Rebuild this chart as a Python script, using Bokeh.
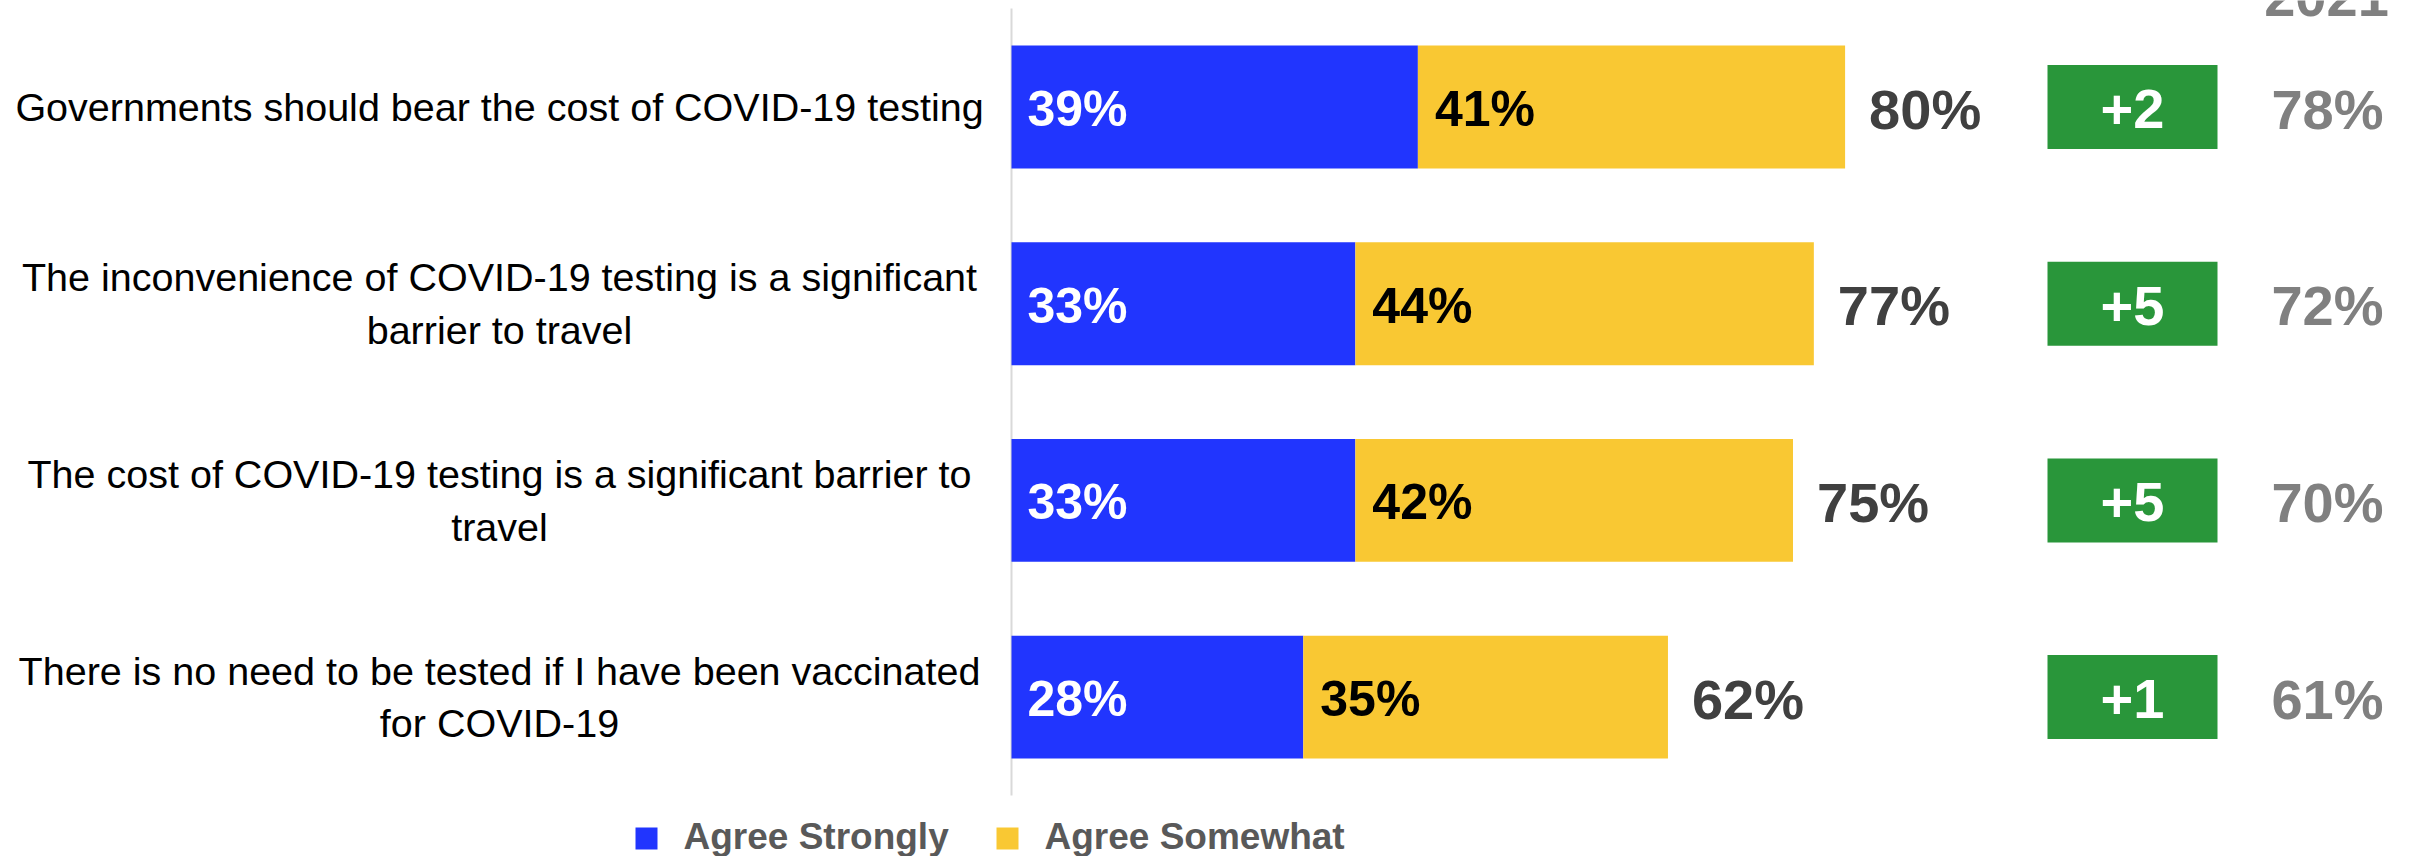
from bokeh.plotting import figure
from bokeh.models import Range1d, ColumnDataSource
from bokeh.core.properties import value
from bokeh.embed import file_html
from bokeh.resources import INLINE

# ---------------- data ----------------
categories = [
    "Governments should bear the cost of COVID-19 testing",
    "The inconvenience of COVID-19 testing is a significant\nbarrier to travel",
    "The cost of COVID-19 testing is a significant barrier to\ntravel",
    "There is no need to be tested if I have been vaccinated\nfor COVID-19",
]
agree_strongly = [39, 33, 33, 28]
agree_somewhat = [41, 44, 42, 35]
totals = [80, 77, 75, 62]
changes = ["+2", "+5", "+5", "+1"]
values_2021 = [78, 72, 70, 61]
header_2021 = "2021"
series_names = ["Agree Strongly", "Agree Somewhat"]

BLUE = "#2135FE"
YELLOW = "#F9C833"
GREEN = "#29963A"
FONT = "Liberation Sans"

# ---------------- layout (page pixels) ----------------
W, H = 2414, 856
OFF = 0                 # page offset of the figure
X0_PAGE = 1011          # page x of 0 %
PX_PER_PCT = 10.42
ROW0_PAGE = 106.5       # page y of first row centre
ROW_PX = 196.7

x_start = -(X0_PAGE - OFF) / PX_PER_PCT
x_end = x_start + W / PX_PER_PCT
y_top = -(ROW0_PAGE - OFF) / ROW_PX
y_bot = y_top + H / ROW_PX


def px2x(px):
    return (px - X0_PAGE) / PX_PER_PCT


def px2y(py):
    return y_top + (py - OFF) / ROW_PX


rows = list(range(len(categories)))
right2 = [a + b for a, b in zip(agree_strongly, agree_somewhat)]

src = ColumnDataSource(dict(
    row=rows,
    cat=categories,
    s=agree_strongly,
    w=agree_somewhat,
    right2=right2,
    tot=totals,
    tot_lbl=[f"{t}%" for t in totals],
    s_lbl=[f"{v}%" for v in agree_strongly],
    w_lbl=[f"{v}%" for v in agree_somewhat],
    chg=changes,
    v21=[f"{v}%" for v in values_2021],
    zero=[0] * len(rows),
))

p = figure(width=W, height=H, x_range=Range1d(x_start, x_end),
           y_range=Range1d(y_bot, y_top), output_backend="svg",
           toolbar_location=None, min_border=0,
           x_axis_location=None, y_axis_location=None)
p.grid.visible = False
p.outline_line_color = None
p.background_fill_color = "white"

# vertical base line
p.segment(x0=0, y0=px2y(8), x1=0, y1=px2y(795), line_color="#d9d9d9", line_width=2)

# bars
p.hbar(y="row", left="zero", right="s", height=0.625, source=src,
       fill_color=BLUE, line_color=None)
p.hbar(y="row", left="s", right="right2", height=0.625, source=src,
       fill_color=YELLOW, line_color=None)

# in-bar labels
p.text(x="zero", y="row", text="s_lbl", source=src, x_offset=16, y_offset=2,
       text_align="left", text_baseline="middle", text_color="white",
       text_font=value(FONT), text_font_style="bold", text_font_size="50px")
p.text(x="s", y="row", text="w_lbl", source=src, x_offset=17, y_offset=2,
       text_align="left", text_baseline="middle", text_color="black",
       text_font=value(FONT), text_font_style="bold", text_font_size="50px")

# totals
p.text(x="right2", y="row", text="tot_lbl", source=src, x_offset=24, y_offset=2,
       text_align="left", text_baseline="middle", text_color="#404040",
       text_font=value(FONT), text_font_style="bold", text_font_size="56px")

# category labels
p.text(x=px2x(499), y="row", text="cat", source=src,
       text_align="center", text_baseline="middle", text_color="black",
       text_font=value(FONT), text_font_size="39.5px", text_line_height=1.2)

# change boxes
p.rect(x=px2x(2132), y="row", width=170, height=84, width_units="screen",
       height_units="screen", source=src, fill_color=GREEN, line_color=None)
p.text(x=px2x(2132), y="row", text="chg", source=src, y_offset=2,
       text_align="center", text_baseline="middle", text_color="white",
       text_font=value(FONT), text_font_style="bold", text_font_size="56px")

# 2021 column
p.text(x=px2x(2327), y="row", text="v21", source=src, y_offset=2,
       text_align="center", text_baseline="middle", text_color="#808080",
       text_font=value(FONT), text_font_style="bold", text_font_size="56px")
p.text(x=[px2x(2326)], y=[px2y(-6)], text=[header_2021], y_offset=2,
       text_align="center", text_baseline="middle", text_color="#808080",
       text_font=value(FONT), text_font_style="bold", text_font_size="56px")

# legend (manual)
leg = ColumnDataSource(dict(
    sx=[px2x(646), px2x(1007)],
    tx=[px2x(683), px2x(1044)],
    y=[px2y(838), px2y(838)],
    ty=[px2y(835), px2y(835)],
    name=series_names,
    color=[BLUE, YELLOW],
))
p.rect(x="sx", y="y", width=22, height=22, width_units="screen", height_units="screen",
       source=leg, fill_color="color", line_color=None)
p.text(x="tx", y="ty", text="name", source=leg, text_align="left", y_offset=1,
       text_baseline="middle", text_color="#595959",
       text_font=value(FONT), text_font_style="bold", text_font_size="37px")

open("out.html", "w").write(file_html(p, INLINE))
